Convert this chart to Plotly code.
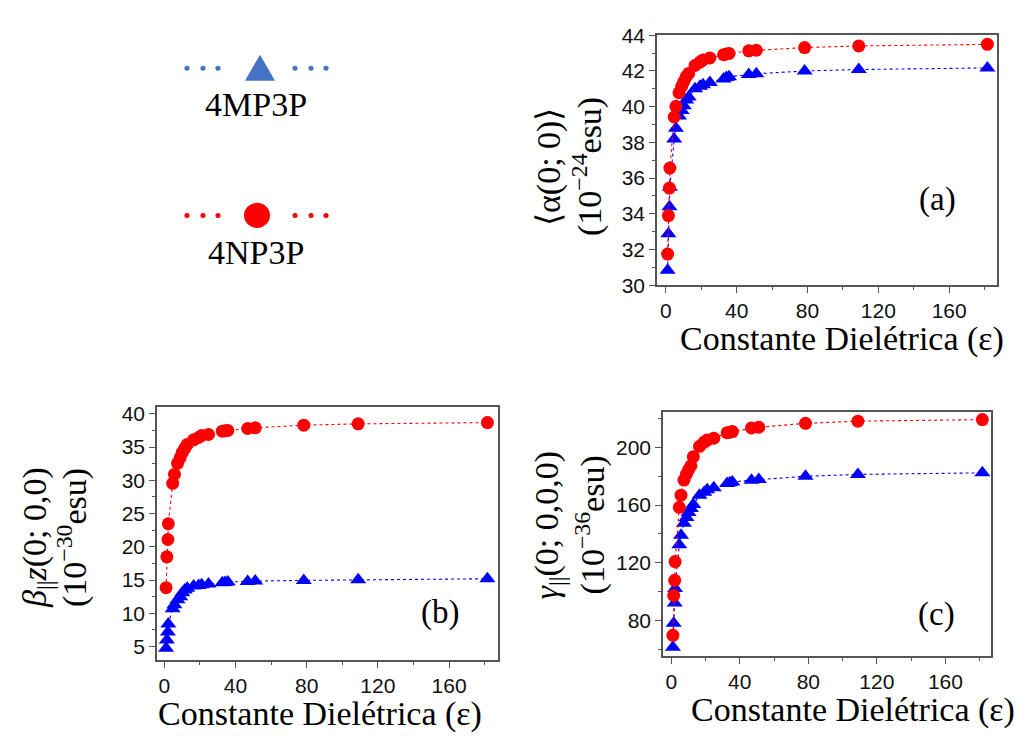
import plotly.graph_objects as go

W, H = 1029, 736

# Dielectric constants (x values)
eps = [1.0, 1.43, 2.02, 2.27, 4.71, 5.70, 7.43, 8.93, 10.13, 11.5, 12.9, 16.5,
       19.3, 21.0, 24.85, 32.61, 34.2, 35.69, 46.83, 51.1, 78.36, 108.94, 181.56]

# (a) <alpha(0;0)>  (10^-24 esu)
alpha_4NP3P = [31.74, 33.90, 35.44, 36.56, 39.42, 40.02, 40.78, 41.14, 41.41, 41.68, 41.86, 42.31,
               42.50, 42.62, 42.73, 42.91, 42.95, 42.98, 43.13, 43.16, 43.31, 43.40, 43.49]
alpha_4MP3P = [30.83, 32.88, 34.39, 35.48, 38.19, 38.79, 39.48, 39.78, 40.05, 40.38, 40.54, 41.01,
               41.15, 41.23, 41.35, 41.55, 41.63, 41.68, 41.80, 41.84, 42.00, 42.08, 42.17]

# (b) beta_||z(0;0,0)  (10^-30 esu)
beta_4NP3P = [13.85, 18.50, 21.10, 23.47, 29.55, 30.90, 32.56, 33.40, 34.20, 34.80, 35.40, 36.10,
              36.45, 36.75, 36.90, 37.40, 37.47, 37.50, 37.80, 37.90, 38.30, 38.50, 38.69]
beta_4MP3P = [4.75, 5.97, 7.20, 8.40, 10.70, 11.30, 12.05, 12.50, 13.10, 13.50, 13.75, 14.10,
              14.20, 14.30, 14.40, 14.60, 14.65, 14.70, 14.80, 14.85, 14.95, 15.05, 15.20]

# (c) gamma_||(0;0,0,0)  (10^-36 esu)
gamma_4NP3P = [69.7, 97.3, 107.8, 120.8, 158.4, 166.8, 177.3, 181.5, 184.5, 187.2, 193.5, 200.7,
               203.6, 205.0, 206.3, 210.1, 210.5, 210.9, 213.4, 213.9, 216.6, 218.1, 219.2]
gamma_4MP3P = [61.5, 78.0, 92.0, 102.2, 132.5, 139.1, 147.3, 151.4, 154.8, 157.5, 160.4, 166.7,
               168.9, 170.5, 172.0, 174.9, 175.5, 176.0, 177.2, 177.6, 179.9, 181.2, 182.3]

series_names = ["4MP3P", "4NP3P"]
x_ticks = [0, 40, 80, 120, 160]

RED = "#ff0000"
BLUE = "#0000ff"
LEG_BLUE = "#4472c4"
SERIF = "Liberation Serif, Times New Roman, serif"
SANS = "Liberation Sans, Arial, sans-serif"

fig = go.Figure()

panels = [
    ("x", "y", alpha_4MP3P, alpha_4NP3P),
    ("x2", "y2", beta_4MP3P, beta_4NP3P),
    ("x3", "y3", gamma_4MP3P, gamma_4NP3P),
]
for xa, ya, blue_vals, red_vals in panels:
    fig.add_trace(go.Scatter(x=eps, y=blue_vals, xaxis=xa, yaxis=ya, mode="lines+markers",
                             name=series_names[0], showlegend=False,
                             line=dict(color=BLUE, width=1.1, dash="dot"),
                             marker=dict(symbol="triangle-up", size=14, color=BLUE)))
    fig.add_trace(go.Scatter(x=eps, y=red_vals, xaxis=xa, yaxis=ya, mode="lines+markers",
                             name=series_names[1], showlegend=False,
                             line=dict(color=RED, width=1.1, dash="dot"),
                             marker=dict(symbol="circle", size=13, color=RED)))


def px_x(p):
    return p / W


def px_y(p):
    return 1 - p / H


axis_common = dict(showline=True, linecolor="#555555", linewidth=1.5, mirror=True,
                   ticks="outside", ticklen=6, tickwidth=1.2, tickcolor="#555555",
                   showgrid=False, zeroline=False,
                   tickfont=dict(family=SANS, size=21, color="#111111"))

def xaxis(dom, rng, anchor):
    d = dict(axis_common)
    d.update(domain=dom, range=rng, anchor=anchor, tickmode="array", tickvals=x_ticks,
             minor=dict(dtick=20, tick0=0, ticklen=3, ticks="outside", tickcolor="#555555"))
    return d

def yaxis(dom, rng, anchor, dtick, minor_dtick):
    d = dict(axis_common)
    d.update(domain=dom, range=rng, anchor=anchor, dtick=dtick, tick0=0,
             minor=dict(dtick=minor_dtick, tick0=0, ticklen=3, ticks="outside", tickcolor="#555555"))
    return d

fig.update_layout(
    width=W, height=H,
    margin=dict(l=0, r=0, t=0, b=0),
    paper_bgcolor="white", plot_bgcolor="white",
    xaxis=xaxis([px_x(657), px_x(997)], [-5, 187], "y"),
    yaxis=yaxis([px_y(282), px_y(24)], [30, 44], "x", 2, 1),
    xaxis2=xaxis([px_x(157), px_x(498)], [-4.1, 187.5], "y2"),
    yaxis2=yaxis([px_y(669), px_y(408)], [2.96, 41.0], "x2", 5, 2.5),
    xaxis3=xaxis([px_x(663), px_x(991)], [-4.8, 186.6], "y3"),
    yaxis3=yaxis([px_y(665), px_y(413)], [55.2, 224.4], "x3", 40, 20),
)

ann = []
xtitle = "Constante Dielétrica (ε)"
for cx, cy in [(842, 338), (320, 725), (853, 720)]:
    ann.append(dict(text=xtitle, x=px_x(cx), y=px_y(cy), xref="paper", yref="paper",
                    showarrow=False, xanchor="center", yanchor="middle",
                    font=dict(family=SERIF, size=34, color="black")))

ytitles = [
    ("⟨α(0; 0)⟩", "(10<sup>−24</sup>esu)", 549, 588, 160),
    ("<i>β</i><sub>||</sub><i>z</i>(0; 0,0)", "(10<sup>−30</sup>esu)", 37, 72, 543),
    ("<i>γ</i><sub>||</sub>(0; 0,0,0)", "(10<sup>−36</sup>esu)", 549, 590, 530),
]
for l1, l2, x1, x2, cy in ytitles:
    ann.append(dict(text=l1, x=px_x(x1), y=px_y(cy), xref="paper", yref="paper",
                    showarrow=False, textangle=-90, xanchor="center", yanchor="middle",
                    font=dict(family=SERIF, size=34, color="black")))
    ann.append(dict(text=l2, x=px_x(x2), y=px_y(cy), xref="paper", yref="paper",
                    showarrow=False, textangle=-90, xanchor="center", yanchor="middle",
                    font=dict(family=SERIF, size=34, color="black")))

for lab, cx, cy in [("(a)", 937, 194), ("(b)", 440, 620), ("(c)", 936, 622)]:
    ann.append(dict(text=lab, x=px_x(cx), y=px_y(cy), xref="paper", yref="paper",
                    showarrow=False, xanchor="center", yanchor="middle",
                    font=dict(family=SERIF, size=33, color="black")))

# Legend (top-left): dotted line pieces + symbol + name below
legend_rows = [(series_names[0], LEG_BLUE, "triangle", 58, 95),
               (series_names[1], RED, "circle", 210, 248)]
shapes = []
for name, col, sym, ry, ty in legend_rows:
    for dx in [187, 203, 218, 295, 311, 326]:
        shapes.append(dict(type="circle", xref="paper", yref="paper",
                           x0=px_x(dx - 2.6), x1=px_x(dx + 2.6), y0=px_y(ry + 2.6), y1=px_y(ry - 2.6),
                           fillcolor=col, line=dict(width=0)))
    if sym == "triangle":
        path = "M {} {} L {} {} L {} {} Z".format(px_x(245), px_y(ry + 13), px_x(275), px_y(ry + 13),
                                                 px_x(260), px_y(ry - 14))
        shapes.append(dict(type="path", xref="paper", yref="paper", path=path,
                           fillcolor=col, line=dict(width=0)))
    else:
        shapes.append(dict(type="circle", xref="paper", yref="paper",
                           x0=px_x(257 - 13), x1=px_x(257 + 13), y0=px_y(ry + 13), y1=px_y(ry - 13),
                           fillcolor=col, line=dict(width=0)))
    ann.append(dict(text=name, x=px_x(256), y=px_y(ty), xref="paper", yref="paper",
                    showarrow=False, xanchor="center", yanchor="middle",
                    font=dict(family=SERIF, size=34, color="black")))

fig.update_layout(annotations=ann, shapes=shapes)

fig.write_html("out.html", config={"displayModeBar": False},
               post_script="document.body.style.margin='0';document.body.style.overflow='hidden';")
